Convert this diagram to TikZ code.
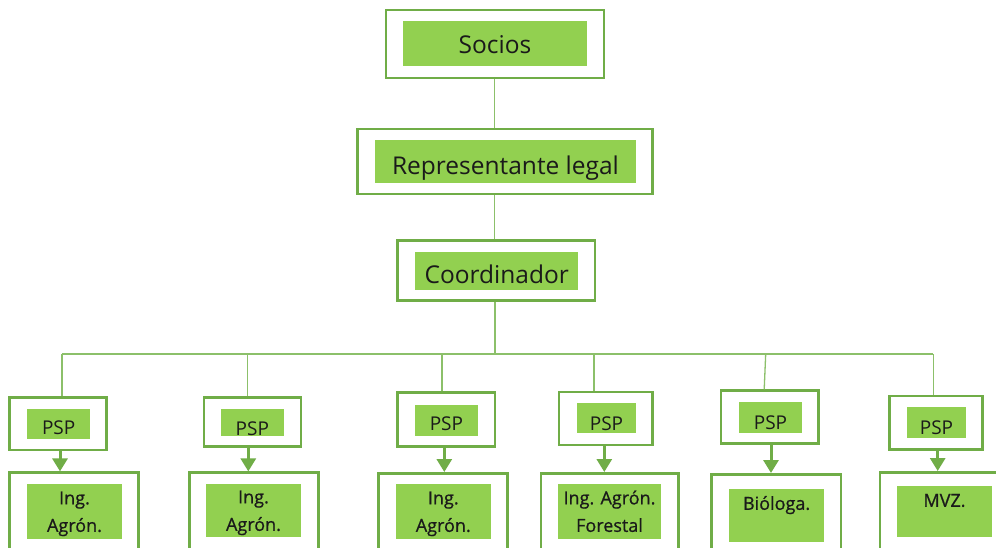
\documentclass[tikz,border=0pt]{standalone}
\usepackage{fontspec}
\setmainfont{Open Sans}
\newfontfamily\semib[FakeBold=0.7]{Open Sans}
\usetikzlibrary{arrows.meta}
\definecolor{bordergreen}{HTML}{70AD47}
\definecolor{fillgreen}{HTML}{92D050}
\definecolor{conngreen}{HTML}{8CC06A}
\definecolor{txt}{HTML}{1A1A1A}
\tikzset{
  outerbox/.style={draw=bordergreen, line width=2.6bp, fill=white, inner sep=0pt},
  innerbig/.style={fill=fillgreen, inner sep=0pt, text=txt, font=\fontsize{24.5bp}{28bp}\selectfont, text depth=0pt},
  innerpsp/.style={fill=fillgreen, inner sep=0pt, text=txt, font=\fontsize{19bp}{22bp}\selectfont, text depth=0pt},
  innerbot/.style={fill=fillgreen, inner sep=0pt, text=txt, font=\semib\fontsize{18bp}{27.5bp}\selectfont, align=center, text height=13bp, text depth=0pt},
  conn/.style={draw=conngreen, line width=1.3bp},
  arr/.style={draw=bordergreen, line width=3bp, -{Triangle[width=15bp,length=13bp]}}
}
\begin{document}
\begin{tikzpicture}[x=1bp,y=-1bp]
\useasboundingbox[fill=white] (0,0) rectangle (996,548);

% top chain
\node[outerbox, minimum width=218bp, minimum height=68bp] (socios) at (494.9,44) {};
\node[innerbig, minimum width=184bp, minimum height=45bp, text height=19.9bp] (sociosin) at (495,43.5) {Socios};

\node[outerbox, minimum width=295bp, minimum height=65bp] (rep) at (505.2,161.5) {};
\node[innerbig, minimum width=261bp, minimum height=42.7bp, text height=26.9bp] (repin) at (505.5,161.3) {Representante legal};

\node[outerbox, minimum width=197.7bp, minimum height=60bp] (coord) at (496.2,270.7) {};
\node[innerbig, minimum width=163.3bp, minimum height=38bp, text height=25.5bp] (coordin) at (496.7,271) {Coordinador};

\draw[conn] ([xshift=-0.5bp]socios.south) -- ([xshift=-0.5bp]socios.south |- rep.north);
\draw[conn] ([xshift=-11bp]rep.south) -- ([xshift=-11bp]rep.south |- coord.north);

% PSP boxes
\node[outerbox, minimum width=97.4bp, minimum height=52.7bp] (psp1) at (58,423.7) {};
\node[innerpsp, minimum width=62.7bp, minimum height=30.3bp, text height=20.2bp] (psp1in) at (58.7,424.2) {PSP};

\node[outerbox, minimum width=97bp, minimum height=49.4bp] (psp2) at (252.5,422) {};
\node[innerpsp, minimum width=62.7bp, minimum height=26bp, text height=27bp] (psp2in) at (252.4,422) {PSP};

\node[outerbox, minimum width=97.7bp, minimum height=54bp] (psp3) at (446.2,419.7) {};
\node[innerpsp, minimum width=62.7bp, minimum height=31bp, text height=20.2bp] (psp3in) at (446.4,420.5) {PSP};

\node[outerbox, minimum width=93.7bp, minimum height=53bp] (psp4) at (605.9,418.5) {};
\node[innerpsp, minimum width=59bp, minimum height=30.6bp, text height=24.2bp] (psp4in) at (606.5,418) {PSP};

\node[outerbox, minimum width=97.3bp, minimum height=52.6bp] (psp5) at (769.7,417) {};
\node[innerpsp, minimum width=62.4bp, minimum height=31bp, text height=24.2bp] (psp5in) at (770.5,417.2) {PSP};

\node[outerbox, minimum width=93.4bp, minimum height=53.3bp] (psp6) at (936,422.7) {};
\node[innerpsp, minimum width=59bp, minimum height=31bp, text height=24.2bp] (psp6in) at (936.5,422.2) {PSP};

% bus
\coordinate (bus) at (495,354);
\draw[conn] ([xshift=-1.2bp]coord.south) -- ([xshift=-1.2bp]coord.south |- bus);
\draw[conn] ([xshift=4bp]psp1.north |- bus) -- ([xshift=-2.7bp]psp6.north |- bus);
\draw[conn] ([xshift=4bp]psp1.north) -- ([xshift=4bp]psp1.north |- bus);
\draw[conn] ([xshift=-5.2bp]psp2.north) -- ([xshift=-5.2bp]psp2.north |- bus);
\draw[conn] ([xshift=-4.2bp]psp3.north) -- ([xshift=-4.2bp]psp3.north |- bus);
\draw[conn] ([xshift=-11.9bp]psp4.north) -- ([xshift=-11.9bp]psp4.north |- bus);
\draw[conn] ([xshift=-5.5bp]psp5.north) -- ([xshift=-4bp]psp5.north |- bus);
\draw[conn] ([xshift=-2.7bp]psp6.north) -- ([xshift=-2.7bp]psp6.north |- bus);

% bottom boxes
\node[outerbox, minimum width=129bp, minimum height=90bp] (b1) at (73.8,517.7) {};
\node[innerbot, minimum width=94.4bp, minimum height=55.3bp, text height=40.5bp] (b1in) at (74.5,511.6) {Ing.\\Agrón.};

\node[outerbox, minimum width=129bp, minimum height=90bp] (b2) at (253.8,517.7) {};
\node[innerbot, minimum width=95bp, minimum height=53.3bp, text height=40.5bp] (b2in) at (253.5,510.6) {Ing.\\Agrón.};

\node[outerbox, minimum width=129bp, minimum height=90bp] (b3) at (442.8,518.3) {};
\node[innerbot, minimum width=94.7bp, minimum height=55.3bp, text height=40.5bp] (b3in) at (443.3,511.6) {Ing.\\Agrón.};

\node[outerbox, minimum width=137.3bp, minimum height=90bp] (b4) at (609.7,518.3) {};
\node[innerbot, minimum width=102.4bp, minimum height=55.3bp, text height=40.5bp] (b4in) at (609.5,511.6) {Ing. Agrón.\\Forestal};

\node[outerbox, minimum width=129.3bp, minimum height=90bp] (b5) at (776.3,519.3) {};
\node[innerbot, minimum width=94.7bp, minimum height=52.7bp, text depth=24bp] (b5in) at (776.6,515.3) {Bióloga.};

\node[outerbox, minimum width=130bp, minimum height=90bp] (b6) at (945,517.3) {};
\node[innerbot, minimum width=94.4bp, minimum height=51.3bp, text depth=22.8bp] (b6in) at (944.5,511.7) {MVZ.};

% arrows
\draw[arr] ([xshift=2bp]psp1.south) -- ([xshift=2bp]psp1.south |- b1.north);
\draw[arr] ([xshift=-4.2bp]psp2.south) -- ([xshift=-4.2bp]psp2.south |- b2.north);
\draw[arr] ([xshift=-1.9bp]psp3.south) -- ([xshift=-1.9bp]psp3.south |- b3.north);
\draw[arr] ([xshift=-1.6bp]psp4.south) -- ([xshift=-1.6bp]psp4.south |- b4.north);
\draw[arr] ([xshift=1.3bp]psp5.south) -- ([xshift=1.3bp]psp5.south |- b5.north);
\draw[arr] ([xshift=1.7bp]psp6.south) -- ([xshift=1.7bp]psp6.south |- b6.north);
\end{tikzpicture}
\end{document}
